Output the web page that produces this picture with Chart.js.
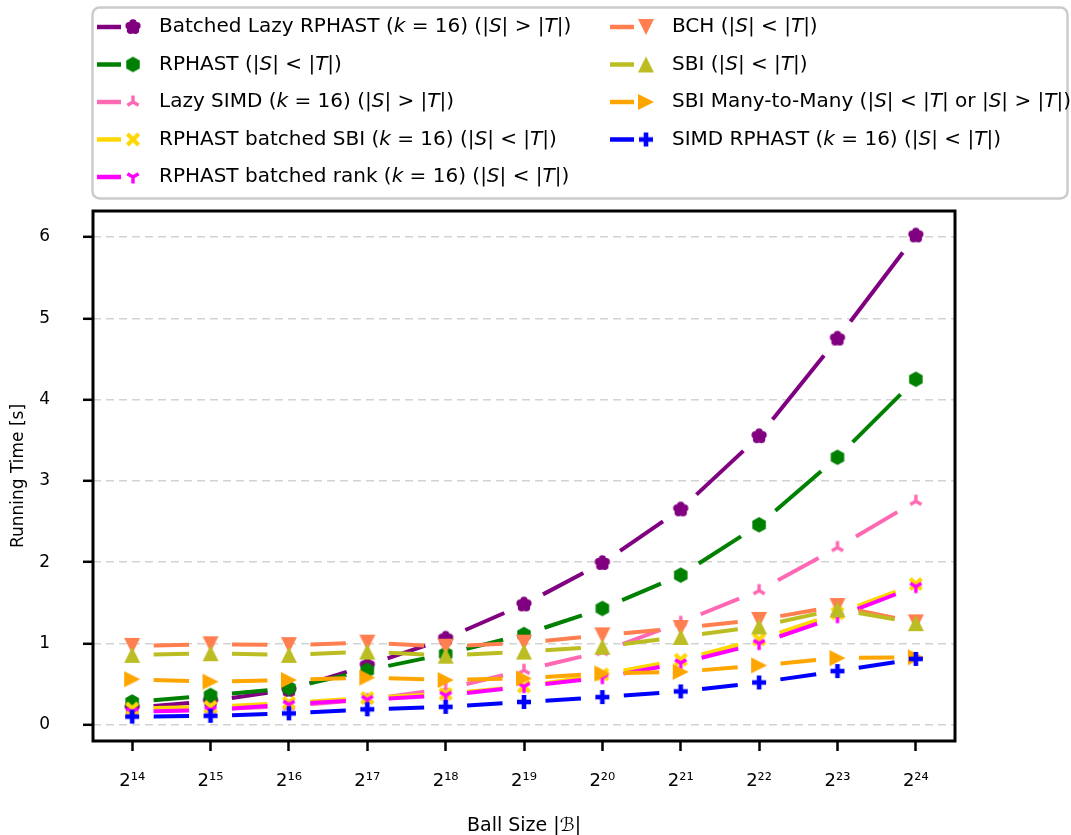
<!DOCTYPE html>
<html>
<head>
<meta charset="utf-8">
<script src="https://cdn.jsdelivr.net/npm/chart.js@4.4.0/dist/chart.umd.min.js"></script>
<style>
  html, body { margin: 0; padding: 0; background: #fff; }
</style>
</head>
<body>
<canvas id="myChart" width="1071" height="835"></canvas>
<script>
// x axis: ball size as powers of two
const exponents = [14, 15, 16, 17, 18, 19, 20, 21, 22, 23, 24];
const yTicks = [0, 1, 2, 3, 4, 5, 6];

// running times [s]
const batchedLazyRphast = [0.21, 0.29, 0.43, 0.73, 1.06, 1.48, 1.99, 2.65, 3.55, 4.75, 6.02];
const rphast            = [0.28, 0.36, 0.45, 0.67, 0.87, 1.11, 1.43, 1.84, 2.46, 3.29, 4.25];
const lazySimd          = [0.16, 0.19, 0.23, 0.31, 0.44, 0.67, 0.90, 1.26, 1.65, 2.18, 2.75];
const batchedSbi        = [0.20, 0.22, 0.27, 0.33, 0.38, 0.47, 0.62, 0.80, 1.05, 1.37, 1.73];
const batchedRank       = [0.16, 0.18, 0.25, 0.31, 0.36, 0.47, 0.58, 0.76, 1.00, 1.33, 1.70];
const bch               = [0.97, 0.99, 0.98, 1.01, 0.96, 1.01, 1.10, 1.19, 1.29, 1.46, 1.26];
const sbi               = [0.86, 0.88, 0.86, 0.90, 0.85, 0.90, 0.96, 1.08, 1.21, 1.42, 1.25];
const sbiManyToMany     = [0.56, 0.53, 0.55, 0.58, 0.55, 0.57, 0.63, 0.65, 0.73, 0.82, 0.83];
const simdRphast        = [0.10, 0.11, 0.14, 0.19, 0.22, 0.28, 0.34, 0.41, 0.52, 0.66, 0.81];

// labels, $..$ parts are set in italic
const seriesLabels = [
  'Batched Lazy RPHAST ($k$ = 16) (|$S$| > |$T$|)',
  'RPHAST (|$S$| < |$T$|)',
  'Lazy SIMD ($k$ = 16) (|$S$| > |$T$|)',
  'RPHAST batched SBI ($k$ = 16) (|$S$| < |$T$|)',
  'RPHAST batched rank ($k$ = 16) (|$S$| < |$T$|)',
  'BCH (|$S$| < |$T$|)',
  'SBI (|$S$| < |$T$|)',
  'SBI Many-to-Many (|$S$| < |$T$| or |$S$| > |$T$|)',
  'SIMD RPHAST ($k$ = 16) (|$S$| < |$T$|)'
];
const seriesData = [batchedLazyRphast, rphast, lazySimd, batchedSbi, batchedRank, bch, sbi, sbiManyToMany, simdRphast];
const seriesColors = ['#800080', '#008000', '#ff69b4', '#ffd700', '#ff00ff', '#ff7f50', '#bcbd22', '#ffa500', '#0000ff'];
const markerKinds = ['flower', 'hexagon', 'triUp', 'x', 'triDown', 'triangleDown', 'triangleUp', 'triangleRight', 'plus'];

const SUP = {'0':'⁰','1':'¹','2':'²','3':'³','4':'⁴','5':'⁵','6':'⁶','7':'⁷','8':'⁸','9':'⁹'};
const xLabels = exponents.map(e => '2' + String(e).split('').map(d => SUP[d]).join(''));

const FONT = '"DejaVu Sans", sans-serif';

function makeMarker(kind, color) {
  const c = document.createElement('canvas');
  c.width = 22; c.height = 22;
  const g = c.getContext('2d');
  g.translate(11, 11);
  g.fillStyle = color;
  g.strokeStyle = color;
  const poly = pts => {
    g.beginPath();
    pts.forEach((p, i) => i ? g.lineTo(p[0], p[1]) : g.moveTo(p[0], p[1]));
    g.closePath();
    g.fill();
  };
  if (kind === 'flower') {
    for (let k = 0; k < 5; k++) {
      const a = -Math.PI / 2 + k * 2 * Math.PI / 5;
      g.beginPath();
      g.arc(Math.cos(a) * 4, Math.sin(a) * 4, 3.8, 0, 2 * Math.PI);
      g.fill();
    }
    g.beginPath(); g.arc(0, 0, 4.5, 0, 2 * Math.PI); g.fill();
  } else if (kind === 'hexagon') {
    const pts = [];
    for (let k = 0; k < 6; k++) {
      const a = -Math.PI / 2 + k * Math.PI / 3;
      pts.push([Math.cos(a) * 7.8, Math.sin(a) * 7.8]);
    }
    poly(pts);
  } else if (kind === 'triUp' || kind === 'triDown') {
    const s = kind === 'triUp' ? -1 : 1;
    g.lineWidth = 3.4;
    g.beginPath();
    g.moveTo(0, 0); g.lineTo(0, 6.5 * s);
    g.moveTo(0, 0); g.lineTo(-5.6, -3.3 * s);
    g.moveTo(0, 0); g.lineTo(5.6, -3.3 * s);
    g.stroke();
  } else if (kind === 'x') {
    g.lineWidth = 4.2;
    g.beginPath();
    g.moveTo(-5.6, -5.6); g.lineTo(5.6, 5.6);
    g.moveTo(5.6, -5.6); g.lineTo(-5.6, 5.6);
    g.stroke();
  } else if (kind === 'triangleDown') {
    poly([[0, 8], [-8, -8], [8, -8]]);
  } else if (kind === 'triangleUp') {
    poly([[0, -8], [-8, 8], [8, 8]]);
  } else if (kind === 'triangleRight') {
    poly([[8, 0], [-8, -8], [-8, 8]]);
  } else if (kind === 'plus') {
    g.fillRect(-2.3, -7, 4.6, 14);
    g.fillRect(-7, -2.3, 14, 4.6);
  }
  return c;
}

const markers = markerKinds.map((k, i) => makeMarker(k, seriesColors[i]));

// gap left free on each side of a marker
const GAP = 21.5;
function segmentDash(ctx) {
  const L = Math.hypot(ctx.p1.x - ctx.p0.x, ctx.p1.y - ctx.p0.y);
  return [0, GAP, Math.max(L - 2 * GAP, 0), 2000 + ctx.p0DataIndex];
}

const datasets = seriesData.map((d, i) => ({
  label: seriesLabels[i].replace(/\$/g, ''),
  data: d,
  borderColor: seriesColors[i],
  backgroundColor: seriesColors[i],
  borderWidth: 4,
  borderCapStyle: 'butt',
  tension: 0,
  fill: false,
  pointStyle: markers[i],
  pointRadius: 8,
  order: seriesData.length - i,
  segment: { borderDash: segmentDash }
}));

function richText(ctx, str, x, y, size) {
  let cx = x;
  str.split('$').forEach((p, i) => {
    ctx.font = (i % 2 ? 'italic ' : '') + size + 'px ' + FONT;
    ctx.fillText(p, cx, y);
    cx += ctx.measureText(p).width;
  });
}

const legendPlugin = {
  id: 'colLegend',
  afterDraw(chart) {
    const ctx = chart.ctx;
    ctx.save();
    ctx.beginPath();
    ctx.roundRect(92.5, 7.5, 975, 191, 7);
    ctx.fillStyle = 'rgba(255,255,255,0.8)';
    ctx.fill();
    ctx.lineWidth = 2.5;
    ctx.strokeStyle = '#cccccc';
    ctx.stroke();
    seriesLabels.forEach((lab, i) => {
      const col = i < 5 ? 0 : 1;
      const row = i < 5 ? i : i - 5;
      const x0 = col ? 610 : 97;
      const y = 27 + row * 37.5;
      ctx.strokeStyle = seriesColors[i];
      ctx.lineWidth = 4.5;
      ctx.lineCap = 'butt';
      ctx.beginPath();
      ctx.moveTo(x0, y); ctx.lineTo(x0 + 24, y);
      ctx.stroke();
      const m = markers[i];
      ctx.drawImage(m, x0 + 36 - m.width / 2, y - m.height / 2);
      ctx.fillStyle = '#000';
      ctx.textBaseline = 'middle';
      ctx.textAlign = 'left';
      richText(ctx, lab, x0 + 62, y, 20);
    });
    ctx.restore();
  }
};

const framePlugin = {
  id: 'frame',
  afterDraw(chart) {
    const a = chart.chartArea;
    const ctx = chart.ctx;
    ctx.save();
    ctx.lineWidth = 3;
    ctx.strokeStyle = '#000';
    ctx.strokeRect(a.left, a.top, a.right - a.left, a.bottom - a.top);
    ctx.restore();
  }
};

new Chart(document.getElementById('myChart').getContext('2d'), {
  type: 'line',
  data: { labels: xLabels, datasets: datasets },
  options: {
    responsive: false,
    animation: false,
    events: [],
    layout: { padding: { top: 211, right: 116, left: 0, bottom: 0 } },
    plugins: {
      legend: { display: false },
      tooltip: { enabled: false }
    },
    scales: {
      x: {
        type: 'category',
        offset: true,
        afterFit(scale) { scale.height = 94; },
        grid: {
          drawOnChartArea: false,
          drawTicks: true,
          tickLength: 10,
          tickColor: '#000',
          tickWidth: 2.5
        },
        border: { display: false },
        ticks: {
          color: '#000',
          padding: 20,
          maxRotation: 0,
          autoSkip: false,
          font: { family: FONT, size: 18 }
        },
        title: {
          display: true,
          text: 'Ball Size |ℬ|',
          color: '#000',
          padding: { top: 0, bottom: -2 },
          font: { family: FONT, size: 19 }
        }
      },
      y: {
        min: -0.2,
        max: 6.32,
        afterFit(scale) { scale.width = 93; },
        afterBuildTicks(scale) { scale.ticks = yTicks.map(v => ({ value: v })); },
        grid: {
          color: '#d3d3d3',
          lineWidth: 1.6,
          drawTicks: true,
          tickLength: 10,
          tickColor: '#000',
          tickWidth: 2.5,
          tickBorderDash: []
        },
        border: { display: false, dash: [8, 5] },
        ticks: {
          color: '#000',
          padding: 33,
          font: { family: FONT, size: 17 }
        },
        title: {
          display: true,
          text: 'Running Time [s]',
          color: '#000',
          padding: { top: 8, bottom: 0 },
          font: { family: FONT, size: 17 }
        }
      }
    }
  },
  plugins: [legendPlugin, framePlugin]
});
</script>
</body>
</html>
